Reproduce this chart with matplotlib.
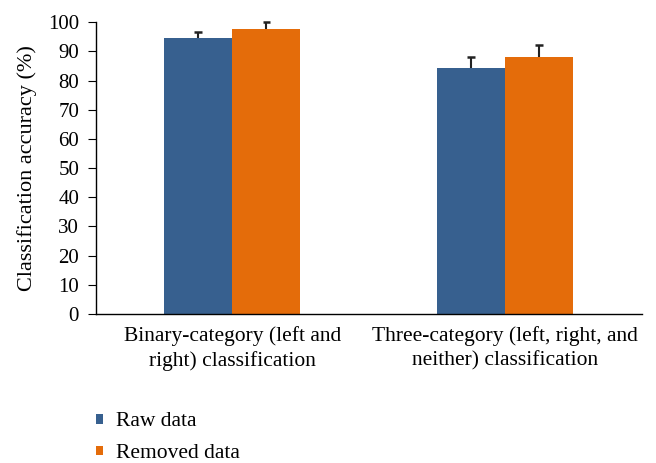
import numpy as np
import matplotlib.pyplot as plt

plt.rcParams['font.family'] = ['Liberation Serif', 'DejaVu Serif']

categories = ['Binary-category (left and\nright) classification',
              'Three-category (left, right, and\nneither) classification']
raw = [94.6, 84.4]
raw_err = [1.9, 3.8]
removed = [97.6, 88.2]
removed_err = [2.4, 3.9]

fig = plt.figure(figsize=(6.56, 4.63), dpi=100)
ax = fig.add_axes([0.146, 0.322, 0.832, 0.630])

x = np.arange(len(categories))
w = 0.25
ax.bar(x - w / 2, raw, w, color='#37608f', label='Raw data')
ax.bar(x + w / 2, removed, w, color='#e46c0a', label='Removed data')

# upper-only error bars with a cap on top
cap = 0.014
for xs, vals, errs in [(x - w / 2, raw, raw_err), (x + w / 2, removed, removed_err)]:
    for xi, v, e in zip(xs, vals, errs):
        ax.vlines(xi, v, v + e, color='#222222', linewidth=1.5, clip_on=False)
        ax.hlines(v + e, xi - cap, xi + cap, color='#222222', linewidth=1.8, clip_on=False)

ax.set_xlim(-0.5, 1.5)
ax.set_ylim(0, 100)
ax.set_yticks(range(0, 101, 10))
ax.set_xticks(x)
ax.set_xticklabels(categories, fontsize=15.5, linespacing=1.3)
ax.tick_params(axis='x', length=0, pad=9)
ax.tick_params(axis='y', labelsize=15, length=6, direction='out', pad=6)
ax.set_ylabel('Classification accuracy (%)', fontsize=16, labelpad=8)
for s in ['top', 'right']:
    ax.spines[s].set_visible(False)
ax.spines['left'].set_linewidth(1)
ax.spines['bottom'].set_linewidth(1)

fig.legend(loc='upper left', bbox_to_anchor=(0.133, 0.128), frameon=False,
           fontsize=15.5, handlelength=0.33, handleheight=0.33, handletextpad=0.6,
           labelspacing=0.6, borderaxespad=0)

fig.savefig('out.png', dpi=100)
